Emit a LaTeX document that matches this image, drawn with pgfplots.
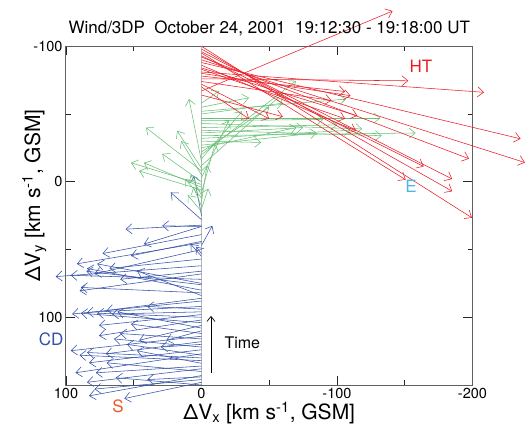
\documentclass[border=0pt]{standalone}
\usepackage{fontspec}
\setmainfont{TeX Gyre Heros}
\usepackage{pgfplots}
\pgfplotsset{compat=1.18}
\usepackage{pgfplotstable}
\usetikzlibrary{arrows.meta}
\definecolor{htred}{RGB}{237,28,36}
\definecolor{egreen}{RGB}{105,192,118}
\definecolor{cdblue}{RGB}{50,80,168}
\definecolor{elabel}{RGB}{80,180,235}
\definecolor{slabel}{RGB}{240,90,40}

% red (HT) vectors: origin (x,y), components (u,v)
\pgfplotstableread{
x y u v
0 -100 -199.6 126.6
0 -98 -185 105
0 -96 -185 94
0 -95 -150.7 93.5
0 -93 -164 81.7
0 -92 -197.4 75
0 -90 -238.7 75.8
0 -88 -235.5 56.3
0 -86 -114 48.4
0 -84 -115 35.3
0 -83 -106 36.5
0 -81 -208.5 15
0 -80 -110 16.5
0 -78 -106 11.4
0 -76 -152.6 1.5
0 -74 -96 14
0 -72 -50 25.5
0 -70 -35 23.5
0 -67 -141 -59
0 -64 -60 16
}\redtab

\pgfplotstableread{
x y u v
0 -58 -13 -9
0 -55 -35 -7
0 -52 -106.6 -9
0 -50 -60 -8
0 -47 -132 0
0 -45 -90 -1
0 -43 -118.6 4
0 -40 -100 -2
0 -38 -133 4
0 -36 -75 -4
0 -34 -158 -2
0 -32 -110 -6
0 -30 -44 1
0 -27 -85 -9
0 -25 -70 -15
0 -22 -50 -33
0 -20 -69.7 -54.5
0 -17 -30 -35
0 -15 9.2 -46
0 -12 -60 -53
0 -10 18 -27.6
0 -8 41 -32
0 -5 15 -25
0 -3 -20 -42
0 0 29 -20.6
0 2 52 -16
0 4 42.5 -18
0 6 46 -14
0 8 -10 -36
0 10 8 -15
0 12 12 -14
0 15 -4 -27
0 18 6 -14
0 20 -5 -15
0 22 10 -12
}\greentab

\pgfplotstableread{
x y u v
0 25 5.5 -29.4
0 28 22.7 -20.1
0 33 29 -0.5
0 32 56 3
0 33 42.5 13
0 39 73 14
0 47 -8 -14.5
0 44 52 10.6
0 53 4 -5
0 55 8 -9
0 45 92 15.6
0 75 77 -14.4
0 62 107.6 8
0 80 84.5 -16
0 57 68 7
0 84 47.6 -18.3
0 72 96.5 -3
0 50 79 18
0 66 60 6
0 68 90 12.5
0 82 89 -4
0 76 85 -10
0 88 95.5 9.6
0 104 89 -7
0 92 84.5 4.5
0 100 77 -3
0 86 70 9
0 96 66 1.6
0 108 62 -12
0 94 40 -2
0 98 75.6 8
0 112 52 -7
0 102 75.6 11.6
0 122 64.6 -6
0 106 46 11
0 110 26 7
0 116 60 -4
0 114 96.5 10.7
0 130 84.5 -4
0 118 70.7 9
0 134 47.6 -9.3
0 120 30 2
0 124 83 9.6
0 128 55 -8
0 140 70 -6.4
0 132 90 -4
0 127 93 14
0 136 78 5
0 150 63.3 -5.4
0 138 84.5 10
0 146 79 7
0 143 83 15
0 144 40 2
0 148 57 12
}\bluetab

\begin{document}
\begin{tikzpicture}
\begin{axis}[
  x=1.355pt, y=1.355pt,
  x dir=reverse, y dir=reverse,
  xmin=-200, xmax=100, ymin=-100, ymax=150,
  clip=false,
  axis line style={gray!75!black, line width=1pt},
  tick style={black!85, line width=0.8pt},
  major tick length=9pt, minor tick length=5pt,
  xtick={100,0,-100,-200}, xticklabels={100,0,-100,-200},
  minor xtick={50,-50,-150},
  ytick={-100,0,100}, yticklabels={-100,0,100},
  minor ytick={-50,50},
  tick label style={font=\fontsize{14.5}{17}\selectfont},
  title={Wind/3DP\ \ October 24, 2001\ \ 19:12:30 - 19:18:00 UT},
  title style={at={(axis description cs:0.5,1.035)}, anchor=center, font=\fontsize{17}{20}\selectfont},
  xlabel={ΔV\textsubscript{x} [km s\textsuperscript{-1}, GSM]},
  ylabel={ΔV\textsubscript{y} [km s\textsuperscript{-1}, GSM]},
  xlabel style={at={(axis description cs:0.5,-0.083)}, anchor=center, font=\fontsize{21}{24}\selectfont},
  ylabel style={at={(axis description cs:-0.078,0.56)}, anchor=center, font=\fontsize{21}{24}\selectfont},
]
\coordinate (LL) at (axis cs:100,150);
\addplot[gray!55, line width=0.8pt] coordinates {(0,-100) (0,150)};
\addplot[cdblue, line width=0.55pt, -{Straight Barb[length=6pt,width=10pt]},
  quiver={u=\thisrow{u}, v=\thisrow{v}}] table[x=x,y=y] {\bluetab};
\addplot[egreen, line width=0.55pt, -{Straight Barb[length=6pt,width=10pt]},
  quiver={u=\thisrow{u}, v=\thisrow{v}}] table[x=x,y=y] {\greentab};
\addplot[htred, line width=0.55pt, -{Straight Barb[length=6pt,width=10pt]},
  quiver={u=\thisrow{u}, v=\thisrow{v}}] table[x=x,y=y] {\redtab};
\addplot[black, line width=0.7pt, -{Straight Barb[length=5pt,width=8pt]}] coordinates {(-7,141) (-7,99)};
\node[font=\fontsize{16}{19}\selectfont, anchor=west] at (axis cs:-14.4,119) {Time};
\node[font=\fontsize{17}{20}\selectfont, text=htred] at (axis cs:-162,-85) {HT};
\node[font=\fontsize{17}{20}\selectfont, text=elabel] at (axis cs:-154.6,3) {E};
\node[font=\fontsize{17}{20}\selectfont, text=cdblue] at (axis cs:111,116) {CD};
\node[font=\fontsize{17}{20}\selectfont, text=slabel] at (axis cs:61.6,166) {S};
\end{axis}
\pgfresetboundingbox
\path ([shift={(-66pt,-44pt)}]LL) rectangle ([shift={(460pt,385pt)}]LL);
\end{tikzpicture}
\end{document}
